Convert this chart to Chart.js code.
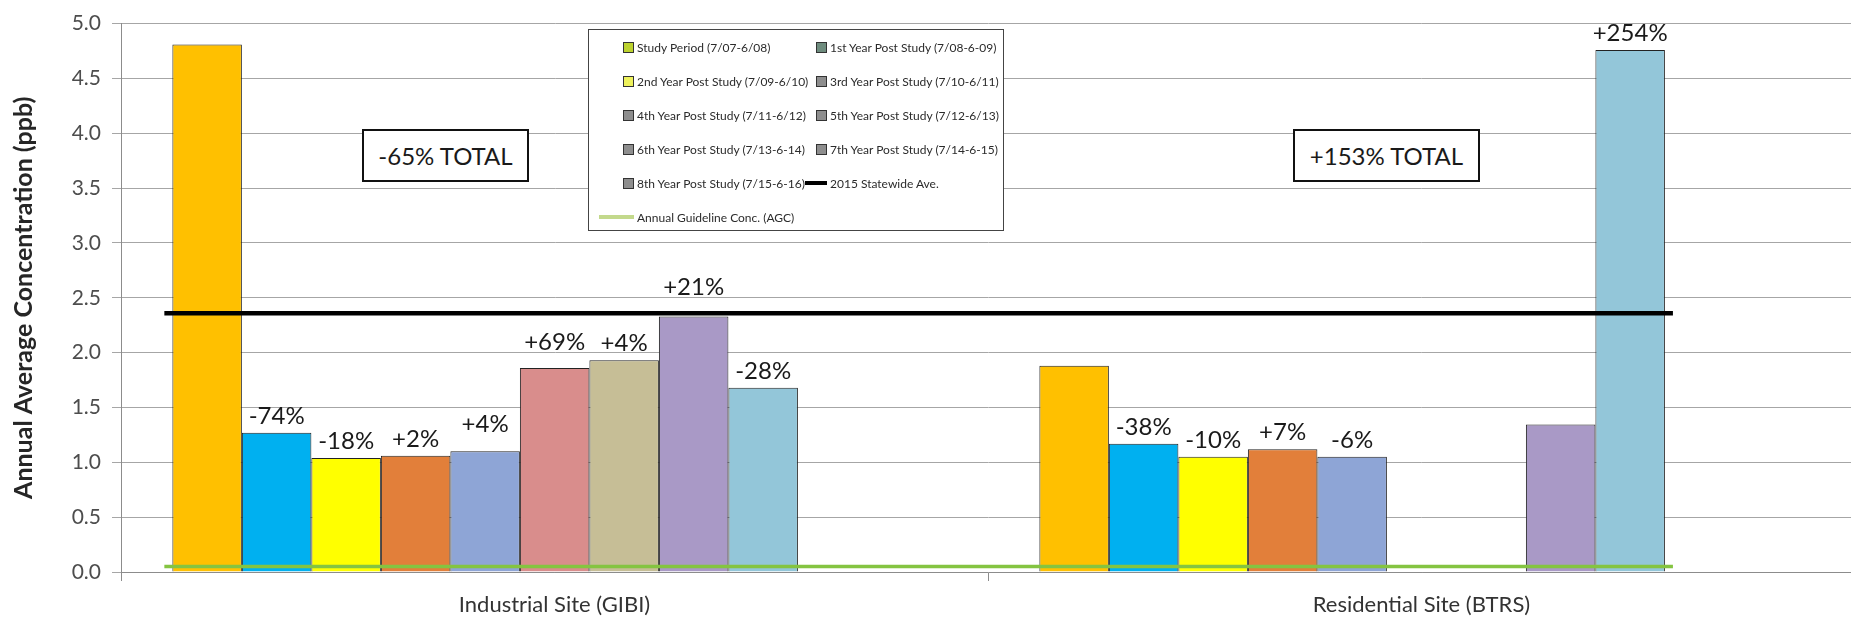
<!DOCTYPE html>
<html>
<head>
<meta charset="utf-8">
<title>Annual Average Concentration by Site</title>
<script src="https://cdn.jsdelivr.net/npm/chart.js@4.4.1/dist/chart.umd.min.js"></script>
<style>
  html, body { margin: 0; padding: 0; background: #fff; overflow: hidden; }
  #wrap { position: relative; width: 1851px; height: 618px; overflow: hidden; }
  #chart { position: absolute; left: 0; top: 0; }
  .total { position: absolute; top: 129px; height: 53px; box-sizing: border-box; border: 2px solid #111;
           background: #fff; font: 24px Lato, sans-serif; color: #1a1a1a;
           display: flex; align-items: center; justify-content: center; }
  #legend { position: absolute; left: 588px; top: 29px; width: 416px; height: 202px; box-sizing: border-box;
            border: 1px solid #444; background: #fff; font: 12px Lato, sans-serif; color: #2b2b2b; }
  .item { position: absolute; display: flex; align-items: center; height: 20px; white-space: nowrap; }
  .sw { width: 48px; display: flex; justify-content: flex-end; margin-right: 3px; }
  .sq { width: 11px; height: 11px; border: 1px solid #333; box-sizing: border-box; }
  .ln { width: 22px; height: 4px; }
  .ln.wide { width: 35px; }
</style>
</head>
<body>
<div id="wrap">
  <canvas id="chart" width="1856" height="618"></canvas>
  <div id="legend"></div>
  <div class="total" id="total0" style="left:362px; width:167px;"></div>
  <div class="total" id="total1" style="left:1293px; width:187px;"></div>
</div>
<script>
// Monitoring sites (x categories)
const sites = ['Industrial Site (GIBI)', 'Residential Site (BTRS)'];

// Annual periods (one bar series each)
const periods = [
  'Study Period (7/07-6/08)',
  '1st Year Post Study (7/08-6-09)',
  '2nd Year Post Study (7/09-6/10)',
  '3rd Year Post Study (7/10-6/11)',
  '4th Year Post Study (7/11-6/12)',
  '5th Year Post Study (7/12-6/13)',
  '6th Year Post Study (7/13-6-14)',
  '7th Year Post Study (7/14-6-15)',
  '8th Year Post Study (7/15-6-16)'
];

// Annual average concentrations (ppb), one value per period
const industrialValues  = [4.81, 1.27, 1.04, 1.06, 1.10, 1.86, 1.93, 2.33, 1.68];
const residentialValues = [1.88, 1.17, 1.05, 1.12, 1.05, null, null, 1.345, 4.76];

// Year-over-year change labels
const industrialChange  = [null, '-74%', '-18%', '+2%', '+4%', '+69%', '+4%', '+21%', '-28%'];
const residentialChange = [null, '-38%', '-10%', '+7%', '-6%', null, null, null, '+254%'];

// Overall change per site
const totalChange = ['-65% TOTAL', '+153% TOTAL'];

// Reference levels (ppb) and the span they are drawn over, in site units
const statewideAve = 2.36;
const agcLevel = 0.05;
const refLineSpan = [-0.37, 1.37];

// Y axis ticks
const yMin = 0, yMax = 5, yStep = 0.5;

// ---- styling ----
const barColors = ['#FFC000', '#00B0F0', '#FFFF00', '#E27F3A', '#8EA5D6',
                   '#D98D8C', '#C6BE96', '#A999C6', '#93C6D9'];
const legendSwatch = ['#BCD22E', '#6E8C7E', '#EEF25C', '#8E8E8E', '#8E8E8E',
                      '#8E8E8E', '#8E8E8E', '#8E8E8E', '#8E8E8E'];
// extra lift (px) for a few change labels that sit higher above their bars
const labelLift = [[0, 0, 0, 0, 10, 9, 0, 12, 0], [0, 0, 0, 0, 0, 0, 0, 0, 0]];
const statewideLabel = '2015 Statewide Ave.';
const agcLabel = 'Annual Guideline Conc. (AGC)';

const siteValues = [industrialValues, residentialValues];
const siteChanges = [industrialChange, residentialChange];

const datasets = periods.map((label, k) => ({
  type: 'bar',
  label,
  xAxisID: 'xv',
  data: sites.map((s, i) => ({ x: i, y: siteValues[i][k] })),
  backgroundColor: barColors[k],
  borderColor: '#222',
  borderWidth: 1,
  categoryPercentage: 0.7215,
  barPercentage: 1,
  order: 2
}));

datasets.push({
  type: 'line',
  label: statewideLabel,
  xAxisID: 'xv',
  data: refLineSpan.map(x => ({ x, y: statewideAve })),
  borderColor: '#000',
  borderWidth: 4.5,
  pointRadius: 0,
  order: 1
});
datasets.push({
  type: 'line',
  label: agcLabel,
  xAxisID: 'xv',
  data: refLineSpan.map(x => ({ x, y: agcLevel })),
  borderColor: '#84C441',
  borderWidth: 3.5,
  pointRadius: 0,
  order: 0
});

// Change labels written above each bar
const changeLabels = {
  id: 'changeLabels',
  afterDatasetsDraw(chart) {
    const ctx = chart.ctx;
    ctx.save();
    ctx.font = '24px Lato';
    ctx.fillStyle = '#1a1a1a';
    ctx.textAlign = 'center';
    ctx.textBaseline = 'alphabetic';
    chart.data.datasets.forEach((ds, di) => {
      if (ds.type !== 'bar') return;
      const meta = chart.getDatasetMeta(di);
      meta.data.forEach((bar, i) => {
        const txt = siteChanges[i][di];
        if (!txt || siteValues[i][di] == null) return;
        ctx.fillText(txt, bar.x, bar.y - 9 - labelLift[i][di]);
      });
    });
    ctx.restore();
  }
};

const chart = new Chart(document.getElementById('chart'), {
  data: { labels: sites, datasets },
  options: {
    responsive: false,
    devicePixelRatio: 1,
    animation: false,
    layout: { padding: { top: 20, right: 1, bottom: 0, left: 0 } },
    plugins: { legend: { display: false }, tooltip: { enabled: false } },
    scales: {
      x: {
        type: 'category',
        labels: sites,
        offset: true,
        position: 'bottom',
        grid: { offset: true, drawOnChartArea: false, tickLength: 9, color: '#8c8c8c' },
        border: { color: '#8c8c8c' },
        ticks: { font: { family: 'Lato', size: 22 }, color: '#333', padding: 11, maxRotation: 0 },
        afterFit(s) { s.height = 46; }
      },
      xv: {
        type: 'linear',
        axis: 'x',
        position: 'bottom',
        display: false,
        offset: false,
        // each bar cluster sits one slot left of its category centre
        min: -0.42,
        max: 1.58,
        ticks: { stepSize: 1, includeBounds: false }
      },
      y: {
        min: yMin,
        max: yMax,
        ticks: {
          stepSize: yStep,
          callback: v => Number(v).toFixed(1),
          font: { family: 'Lato', size: 21 },
          color: '#4d4d4d',
          padding: 11
        },
        grid: { color: '#a6a6a6', tickLength: 9 },
        border: { color: '#8c8c8c' },
        title: {
          display: true,
          text: 'Annual Average Concentration (ppb)',
          font: { family: 'Lato', size: 25, weight: 'bold' },
          color: '#262626',
          padding: { top: 9, bottom: 0 }
        },
        afterFit(s) { s.width = 121; }
      }
    }
  },
  plugins: [changeLabels]
});

// Total-change boxes
totalChange.forEach((t, i) => { document.getElementById('total' + i).textContent = t; });

// Two-column legend inside the plot
const legend = document.getElementById('legend');
chart.data.datasets.forEach((ds, k) => {
  const row = Math.floor(k / 2), col = k % 2;
  const item = document.createElement('div');
  item.className = 'item';
  item.style.top = (7 + 34 * row) + 'px';
  item.style.left = (col === 0 ? -3 : 190) + 'px';
  const sw = document.createElement('div');
  sw.className = 'sw';
  const mark = document.createElement('div');
  if (ds.type === 'bar') {
    mark.className = 'sq';
    mark.style.background = legendSwatch[k];
  } else if (ds.label === agcLabel) {
    mark.className = 'ln wide';
    mark.style.background = '#C3D98C';
  } else {
    mark.className = 'ln';
    mark.style.background = '#000';
  }
  sw.appendChild(mark);
  const txt = document.createElement('span');
  txt.textContent = ds.label;
  item.appendChild(sw);
  item.appendChild(txt);
  legend.appendChild(item);
});
</script>
</body>
</html>
